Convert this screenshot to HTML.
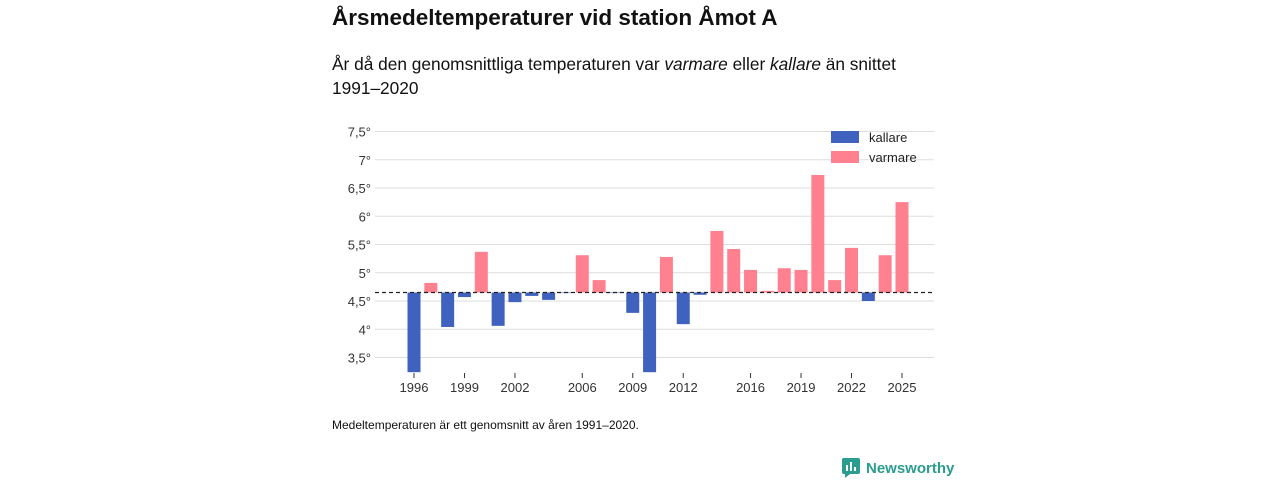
<!DOCTYPE html>
<html><head><meta charset="utf-8">
<style>
body{margin:0;width:1280px;height:480px;background:#fff;font-family:"Liberation Sans","DejaVu Sans",sans-serif;color:#111;position:relative;overflow:hidden}
.t{position:absolute;left:332px;top:5px;font-size:22.5px;font-weight:bold}
.s{position:absolute;left:332px;top:52px;font-size:17.3px;line-height:24px;width:575px}
.n{position:absolute;left:332px;top:418px;font-size:12px}
.logo{position:absolute;left:842px;top:458px;font-size:15px;color:#2a9d8f;font-weight:bold;display:flex;align-items:center;gap:6px}
</style></head><body>
<div class="t">Årsmedeltemperaturer vid station Åmot A</div>
<div class="s">År då den genomsnittliga temperaturen var <i>varmare</i> eller <i>kallare</i> än snittet 1991–2020</div>
<svg id="c" width="1280" height="480" style="position:absolute;left:0;top:0"></svg>
<div class="n">Medeltemperaturen är ett genomsnitt av åren 1991–2020.</div>
<div class="logo"><svg width="18" height="20"><rect x="0" y="0" width="18" height="16" rx="2" fill="#2a9d8f"/><rect x="4" y="7" width="2" height="6" fill="#fff"/><rect x="8" y="4" width="2" height="9" fill="#fff"/><rect x="12" y="9" width="2" height="4" fill="#fff"/><path d="M3 16 L3 20 L8 16Z" fill="#2a9d8f"/></svg>Newsworthy</div>
<script>
const years=[1996,1997,1998,1999,2000,2001,2002,2003,2004,2005,2006,2007,2008,2009,2010,2011,2012,2013,2014,2015,2016,2017,2018,2019,2020,2021,2022,2023,2024,2025];
const temps=[3.24,4.82,4.04,4.57,5.37,4.06,4.48,4.59,4.52,4.64,5.31,4.87,4.64,4.29,3.24,5.28,4.09,4.61,5.74,5.42,5.05,4.68,5.08,5.05,6.73,4.87,5.44,4.5,5.31,6.25];
const avg=4.65;
const yTicks=[3.5,4,4.5,5,5.5,6,6.5,7,7.5];
const xTicks=[1996,1999,2002,2006,2009,2012,2016,2019,2022,2025];
const svg=document.getElementById('c');const NS='http://www.w3.org/2000/svg';
const y=v=>301-(v-4.5)*56.5;
const x=yr=>414+(yr-1996)*(902-414)/29;
function mk(t,a){const e=document.createElementNS(NS,t);for(const k in a)e.setAttribute(k,a[k]);svg.appendChild(e);return e;}
yTicks.forEach(v=>{
 const l=mk('line',{x1:375,x2:934,y1:y(v),y2:y(v),stroke:'#ddd'});
 
 
 const t=mk('text',{x:371,y:y(v)+5,'text-anchor':'end','font-size':13,fill:'#333'});
 t.textContent=String(v).replace('.',',')+'°';
 
 
});
years.forEach((yr,i)=>{
 const v=temps[i];const top=Math.min(y(v),y(avg)),h=Math.abs(y(v)-y(avg));
 const r=mk('rect',{x:x(yr)-6.5,y:top,width:13,height:h,fill:v<avg?'#4062bf':'#ff808e'});
 
 
});
const d=mk('line',{x1:375,x2:934,y1:y(avg),y2:y(avg),stroke:'#222','stroke-dasharray':'4,3','stroke-width':1.2});


xTicks.forEach(yr=>{
 const l=mk('line',{x1:x(yr),x2:x(yr),y1:373,y2:378,stroke:'#333'});
 
 
 const t=mk('text',{x:x(yr),y:392,'text-anchor':'middle','font-size':13,fill:'#333'});
 t.textContent=yr;
 
 
});
[['kallare','#4062bf',137],['varmare','#ff808e',157]].forEach(([n,c,yy])=>{
 const r=mk('rect',{x:831,y:yy-6,width:28,height:12,fill:c});
 
 
 const t=mk('text',{x:869,y:yy+5,'font-size':13,fill:'#222'});
 t.textContent=n;
 
 
});
</script>
</body></html>
